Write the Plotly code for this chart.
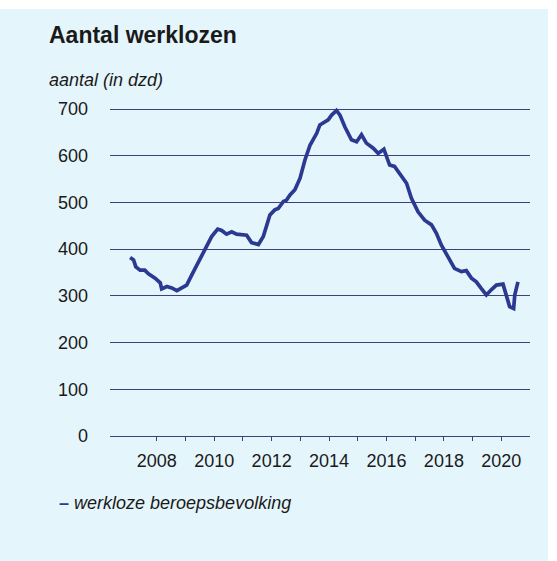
import plotly.graph_objects as go

# Data (decimal year, unemployed x1000)
years = [2007.07, 2007.19, 2007.27, 2007.42, 2007.58, 2007.71, 2007.94,
         2008.12, 2008.17, 2008.35, 2008.52, 2008.70, 2008.87,
         2009.04, 2009.22, 2009.39, 2009.57, 2009.74, 2009.91,
         2010.12, 2010.26, 2010.43, 2010.61, 2010.78, 2010.96,
         2011.13, 2011.30, 2011.54, 2011.71, 2011.94,
         2012.11, 2012.23, 2012.41, 2012.52, 2012.64, 2012.81, 2012.99,
         2013.16, 2013.34, 2013.57, 2013.68, 2013.86, 2013.97,
         2014.09, 2014.26, 2014.38, 2014.55, 2014.78, 2014.96,
         2015.13, 2015.30, 2015.54, 2015.71, 2015.91,
         2016.11, 2016.28, 2016.46, 2016.70, 2016.87,
         2017.10, 2017.33, 2017.57, 2017.74, 2017.91,
         2018.14, 2018.37, 2018.61, 2018.78, 2018.96,
         2019.13, 2019.30, 2019.48, 2019.65, 2019.83,
         2020.06, 2020.17, 2020.29, 2020.43, 2020.47, 2020.58]
werklozen = [382, 377, 362, 355, 355, 347, 338,
             328, 315, 320, 317, 311, 317,
             323, 345, 366, 388, 409, 427,
             443, 440, 432, 437, 432, 431,
             430, 414, 410, 427, 473,
             484, 487, 502, 505, 516, 527, 552,
             591, 623, 648, 666, 673, 677,
             687, 697, 687, 662, 634, 630,
             645, 627, 616, 605, 614,
             580, 577, 562, 541, 509,
             480, 462, 452, 434, 409,
             384, 359, 352, 354, 338,
             330, 316, 302, 313, 323,
             325, 305, 277, 273, 302, 330]

x_ticks = list(range(2008, 2021))
x_ticktext = [str(y) if y % 2 == 0 else "" for y in x_ticks]
y_ticks = [0, 100, 200, 300, 400, 500, 600, 700]

title_text = "Aantal werklozen"
unit_text = "aantal (in dzd)"
series_name = "werkloze beroepsbevolking"

navy = "#2b3990"
grid = "#3d3f7f"
bg = "#e5f5fc"
font_family = "Liberation Sans, Arial, sans-serif"

fig = go.Figure()
fig.add_trace(go.Scatter(
    x=years, y=werklozen, mode="lines", name=series_name,
    line=dict(color=navy, width=3.7), showlegend=False,
))

fig.update_layout(
    width=557, height=561,
    margin=dict(l=110, r=27, t=95, b=125),
    paper_bgcolor="white",
    plot_bgcolor=bg,
    font=dict(family=font_family, color="#1a1a1a", size=18),
    shapes=[dict(type="rect", xref="paper", yref="paper",
                 x0=-0.262, x1=1.043, y0=-0.367, y1=1.252,
                 fillcolor=bg, line=dict(width=0), layer="below")],
    annotations=[
        dict(text="<b>" + title_text + "</b>", xref="paper", yref="paper",
             x=-0.15, y=1.176, xanchor="left", yanchor="middle",
             showarrow=False, font=dict(size=23, color="#1a1a1a")),
        dict(text="<i>" + unit_text + "</i>", xref="paper", yref="paper",
             x=-0.15, y=1.044, xanchor="left", yanchor="middle",
             showarrow=False, font=dict(size=18, color="#1a1a1a")),
        dict(text="<span style='color:" + navy + "'><b>–</b></span> <i>" + series_name + "</i>",
             xref="paper", yref="paper",
             x=-0.127, y=-0.196, xanchor="left", yanchor="middle",
             showarrow=False, font=dict(size=18, color="#1a1a1a")),
    ],
    xaxis=dict(
        range=[2006.37, 2021.0], tickvals=x_ticks, ticktext=x_ticktext,
        showgrid=False, zeroline=False, showline=True, linecolor=grid, linewidth=1.2,
        ticks="outside", ticklen=4, tickcolor=grid, tickwidth=1,
        ticklabelstandoff=4, fixedrange=True,
    ),
    yaxis=dict(
        range=[0, 730], tickvals=y_ticks,
        showgrid=True, gridcolor=grid, gridwidth=1.2, zeroline=False,
        showline=False, ticks="", ticklabelstandoff=21, fixedrange=True,
    ),
)

fig.write_html("out.html", config={"displayModeBar": False},
               post_script="document.body.style.margin='0';")
